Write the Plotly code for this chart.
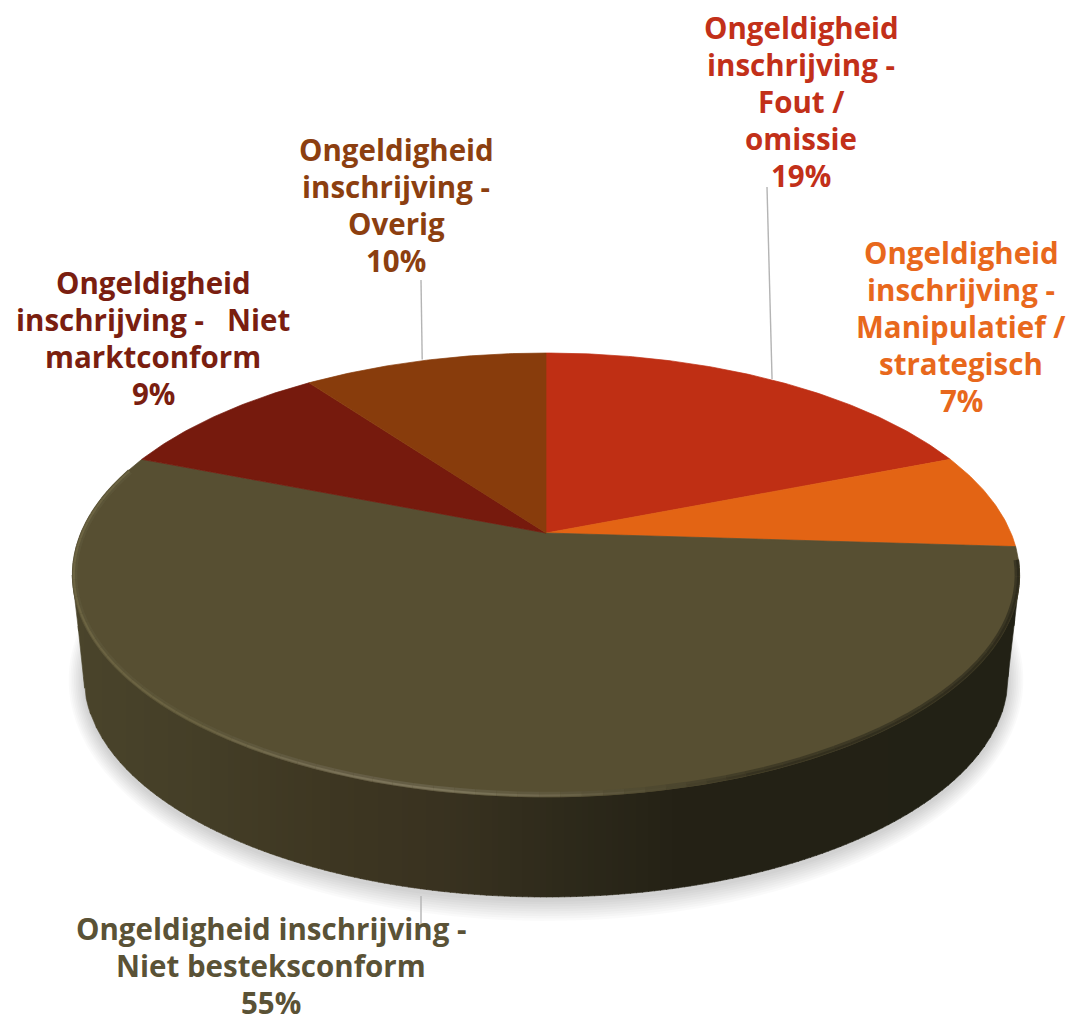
import numpy as np
import plotly.graph_objects as go

# ---- data ----
categories = [["Ongeldigheid", "inschrijving -", "Fout /", "omissie"],
              ["Ongeldigheid", "inschrijving -", "Manipulatief /", "strategisch"],
              ["Ongeldigheid inschrijving -", "Niet besteksconform"],
              ["Ongeldigheid", "inschrijving -\u00a0\u00a0\u00a0Niet", "marktconform"],
              ["Ongeldigheid", "inschrijving -", "Overig"]]
values = [19, 7, 55, 9, 10]
slice_colors = ["#BF2F14", "#E36414", "#574F32", "#761A0D", "#883C0C"]
text_colors = ["#C23019", "#E8681C", "#5A5236", "#7A1E10", "#8C3F10"]
label_x = [801, 961, 271, 153, 396]
label_y = [101.5, 326, 965.5, 338, 205]

# ---- pie geometry (perspective disc on pixel-sized axes) ----
CX, CY, A, B, K = 546.0, 533.0, 465.0, 214.0, 0.189
LOW_CY, LOW_RX, LOW_RY = 677.0, 462.0, 220.0
TOP_CY, TOP_RX = 575.0, 474.0
LINE_STEP = 37.0


def project(theta):
    d = 1 + K * np.cos(theta)
    return CX + A * np.sin(theta) / d, CY - B * np.cos(theta) / d


def lower(x):
    dx = np.abs(x - CX)
    inside = LOW_CY + LOW_RY * np.sqrt(np.clip(1 - (dx / LOW_RX) ** 2, 0, 1))
    outside = LOW_CY + (dx - LOW_RX) / (TOP_RX - LOW_RX) * (TOP_CY - LOW_CY)
    return np.where(dx <= LOW_RX, inside, outside)


def mix(stops, x):
    xs = [s[0] for s in stops]
    r = np.interp(x, xs, [s[1][0] for s in stops])
    g = np.interp(x, xs, [s[1][1] for s in stops])
    b = np.interp(x, xs, [s[1][2] for s in stops])
    return f"rgb({r:.0f},{g:.0f},{b:.0f})"


fig = go.Figure()

# soft shadow
for e in np.arange(22, 0, -2.5):
    t = np.linspace(0, 2 * np.pi, 200)
    fig.add_trace(go.Scatter(
        x=CX + (LOW_RX + e * 0.7) * np.cos(t),
        y=LOW_CY + 3 + (LOW_RY + e * 0.95) * np.sin(t),
        mode="none", fill="toself", fillcolor="rgba(0,0,0,0.02)", hoverinfo="skip"))

# side wall
wall_stops = [(72, (74, 68, 43)), (200, (68, 62, 39)), (320, (62, 55, 34)), (440, (57, 50, 32)),
              (560, (46, 42, 27)), (680, (36, 33, 21)), (760, (35, 33, 21)), (1020, (34, 33, 21))]
edges = np.arange(72, 1021, 6.0)
for x0, x1 in zip(edges[:-1], edges[1:]):
    xs = np.linspace(x0, min(x1 + 0.6, 1019.5), 4)
    col = mix(wall_stops, (x0 + x1) / 2)
    fig.add_trace(go.Scatter(
        x=np.r_[xs, xs[::-1]],
        y=np.r_[lower(xs), np.full(4, TOP_CY - 5)],
        mode="lines", line=dict(width=0.6, color=col), fill="toself", fillcolor=col, hoverinfo="skip"))

# top-face slices
start = 0.0
total = sum(values)
mids = []
for v, c in zip(values, slice_colors):
    t = np.linspace(start, start + v, max(int(v * 6), 12)) / total * 2 * np.pi
    px, py = project(t)
    fig.add_trace(go.Scatter(
        x=np.r_[CX, px, CX], y=np.r_[CY, py, CY],
        mode="lines", line=dict(width=0.7, color=c), fill="toself", fillcolor=c, hoverinfo="skip"))
    mids.append((start + v / 2) / total * 2 * np.pi)
    start += v

# bevel along the visible rim: a wide soft band, then a thin brighter core
rim_soft = [(60, (92, 85, 56)), (200, (92, 85, 56)), (330, (100, 92, 68)), (440, (102, 95, 70)),
            (560, (94, 87, 60)), (660, (78, 72, 47)), (760, (64, 59, 38)), (1020, (58, 54, 35))]
rim_core = [(60, (108, 100, 66)), (200, (106, 98, 66)), (330, (120, 112, 86)), (440, (126, 118, 92)),
            (560, (108, 101, 74)), (660, (80, 74, 49)), (760, (52, 48, 31)), (1020, (46, 43, 28))]
angles = np.linspace(np.radians(97), np.radians(288), 90)
for stops, width, sx, sy in ((rim_soft, 5.5, 0.9955, 0.9895), (rim_core, 2.0, 0.997, 0.9935)):
    for a0, a1 in zip(angles[:-1], angles[1:]):
        xa, ya = project(np.linspace(a0, a1, 3))
        fig.add_trace(go.Scatter(
            x=CX + (xa - CX) * sx, y=TOP_CY + (ya - TOP_CY) * sy, mode="lines",
            line=dict(width=width, color=mix(stops, xa.mean())), hoverinfo="skip"))

# leader lines
lx, ly = project(np.array([mids[0], mids[4]]))
fig.add_trace(go.Scatter(x=[767, lx[0]], y=[187, ly[0] - 1], mode="lines",
                         line=dict(width=1.4, color="#B4B4B4"), hoverinfo="skip"))
fig.add_trace(go.Scatter(x=[421, lx[1] - 2], y=[280, ly[1] - 1], mode="lines",
                         line=dict(width=1.4, color="#B4B4B4"), hoverinfo="skip"))
fig.add_trace(go.Scatter(x=[421, 421], y=[896, 928], mode="lines",
                         line=dict(width=1.4, color="#B4B4B4"), hoverinfo="skip"))

# labels, one annotation per text line for the exact line pitch
for cat, v, col, x, y in zip(categories, values, text_colors, label_x, label_y):
    lines = cat + [f"{v}%"]
    for i, line in enumerate(lines):
        fig.add_annotation(x=x, y=y + (i - (len(lines) - 1) / 2) * LINE_STEP, xref="x", yref="y",
                           showarrow=False, align="center", xanchor="center", yanchor="middle",
                           text=f"<b>{line}</b>",
                           font=dict(family="Open Sans", size=29.5, color=col))

fig.update_layout(
    width=1069, height=1016, margin=dict(l=0, r=0, t=0, b=0), showlegend=False,
    paper_bgcolor="white", plot_bgcolor="white",
    xaxis=dict(range=[0, 1069], visible=False, fixedrange=True),
    yaxis=dict(range=[1016, 0], visible=False, fixedrange=True),
)
fig.write_html("out.html", post_script="document.body.style.margin='0';document.body.style.overflow='hidden';", config={"displayModeBar": False})
